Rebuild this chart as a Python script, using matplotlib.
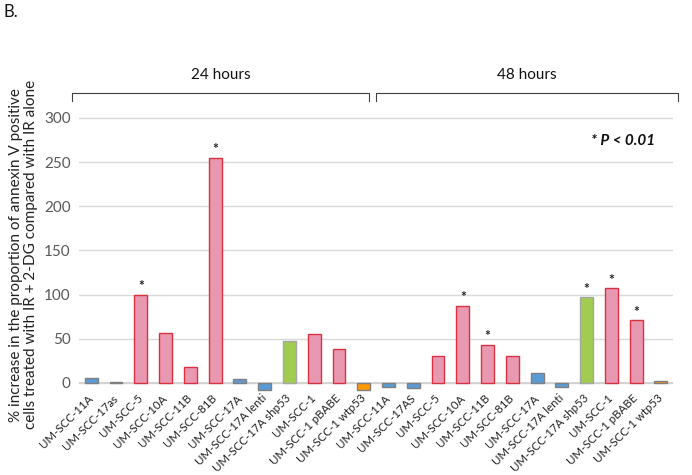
import numpy as np
import matplotlib.pyplot as plt

labels_24 = ["UM-SCC-11A", "UM-SCC-17as", "UM-SCC-5", "UM-SCC-10A", "UM-SCC-11B",
             "UM-SCC-81B", "UM-SCC-17A", "UM-SCC-17A lenti", "UM-SCC-17A shp53",
             "UM-SCC-1", "UM-SCC-1 pBABE", "UM-SCC-1 wtp53"]
labels_48 = ["UM-SCC-11A", "UM-SCC-17AS", "UM-SCC-5", "UM-SCC-10A", "UM-SCC-11B",
             "UM-SCC-81B", "UM-SCC-17A", "UM-SCC-17A lenti", "UM-SCC-17A shp53",
             "UM-SCC-1", "UM-SCC-1 pBABE", "UM-SCC-1 wtp53"]
values_24 = [6, 1, 100, 57, 18, 255, 4, -8, 48, 56, 39, -8]
values_48 = [-4, -6, 30, 87, 43, 30, 11, -5, 97, 107, 71, 2]
groups = ["b", "b", "p", "p", "p", "p", "b", "b", "g", "p", "p", "o"]
sig_24 = [False, False, True, False, False, True, False, False, False, False, False, False]
sig_48 = [False, False, False, True, True, False, False, False, True, True, True, False]

fill = {"b": "#5B9BD5", "p": "#E899B1", "g": "#A2CC4F", "o": "#FF9900"}
edge = {"b": "#7F7F7F", "p": "#D9323F", "g": "#A5A5A5", "o": "#7F7F7F"}

labels = labels_24 + labels_48
values = values_24 + values_48
colors = groups + groups
sig = sig_24 + sig_48
x = np.arange(len(values))

plt.rcParams['font.family'] = ['Lato', 'DejaVu Sans']
fig = plt.figure(figsize=(6.92, 4.75), dpi=100)
ax = fig.add_axes([0.114, 0.1714, 0.859, 0.584])

ax.bar(x, values, width=0.52, color=[fill[c] for c in colors],
       edgecolor=[edge[c] for c in colors], linewidth=1.0, zorder=3)
for xi, v, s in zip(x, values, sig):
    if s:
        ax.text(xi, v + 3, "*", ha="center", va="bottom", fontsize=10,
                fontweight="bold", color="#222222", zorder=4)

ax.set_xlim(-0.5, len(values) - 0.5)
ax.set_ylim(-12, 302)
ax.set_yticks(range(0, 301, 50))
ax.yaxis.grid(True, color="#D9D9D9", linewidth=1.0, zorder=0)
ax.axhline(0, color="#D0D0D0", linewidth=1.2, zorder=2)
for sp in ax.spines.values():
    sp.set_visible(False)
ax.tick_params(axis="both", length=0)
ax.tick_params(axis="y", labelcolor="#595959", labelsize=11, pad=6)
ax.set_xticks(x)
ax.set_xticklabels(labels, rotation=45, ha="right", va="center",
                   rotation_mode="anchor", fontsize=8.3, color="#222222")
ax.tick_params(axis="x", pad=2)

ax.set_ylabel("% increase in the proportion of annexin V positive\n"
              "cells treated with IR + 2-DG compared with IR alone",
              fontsize=11, color="#222222", linespacing=1.1, labelpad=4)

ax.text(0.97, 0.91, "* P < 0.01", transform=ax.transAxes, ha="right", va="center",
        fontsize=11, fontweight="bold", fontstyle="italic", color="#111111")

# brackets for the time points
def bracket(x0, x1, label):
    y0, y1 = 0.787, 0.804
    fig.add_artist(plt.Line2D([x0, x0, x1, x1], [y0, y1, y1, y0],
                              transform=fig.transFigure, color="#404040", lw=0.8))
    fig.text((x0 + x1) / 2, 0.843, label, ha="center", va="center",
             fontsize=11, color="#111111")

bracket(72 / 692, 369 / 692, "24 hours")
bracket(376 / 692, 678 / 692, "48 hours")

fig.text(0.005, 0.975, "B.", ha="left", va="center", fontsize=12, color="#111111")

fig.savefig("out.png", dpi=100)
